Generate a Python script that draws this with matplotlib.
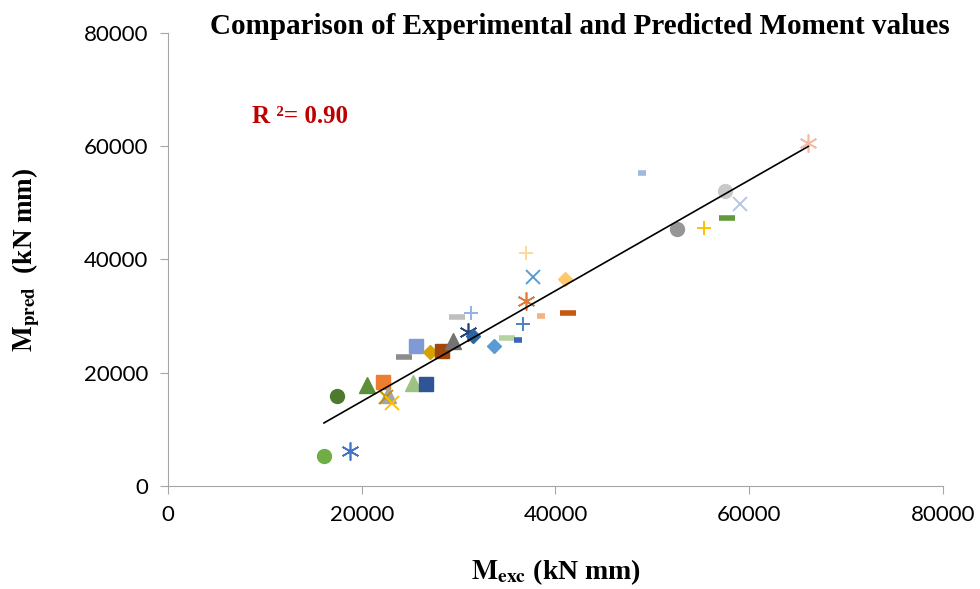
"""Scatter of experimental vs predicted moment values with a linear trend line."""

import matplotlib.pyplot as plt
import numpy as np

plt.rcParams["mathtext.fontset"] = "stix"

# Experimental moment (kN mm) and predicted moment (kN mm), one entry per specimen.
m_exc = [16100, 18800, 17400, 20500, 22200, 22700, 22500, 23100, 25300, 26600,
         24400, 25600, 27000, 28300, 29400, 29800, 31300, 31000, 31500, 33700,
         35000, 36100, 36600, 38500, 41300, 37000, 37700, 37000, 41000, 48900,
         52500, 55300, 57700, 57500, 59000, 66100]
m_pred = [5300, 6200, 15900, 17800, 18400, 16100, 15700, 14700, 18200, 18000,
          22800, 24700, 23700, 23800, 25600, 29800, 30500, 27200, 26500, 24700,
          26100, 25800, 28600, 30000, 30500, 32700, 36900, 41100, 36600, 55300,
          45400, 45600, 47300, 52100, 49800, 60600]

r_squared = 0.90

ASTERISK = (6, 2, 0)

# Marker style for each specimen (kept apart from the values above).
markers = ["o", ASTERISK, "o", "^", "s", "^", "x", "x", "^", "s",
           "_", "s", "D", "s", "^", "_", "+", ASTERISK, "D", "D",
           "_", "_", "+", "_", "_", ASTERISK, "x", "+", "D", "_",
           "o", "+", "_", "o", "x", ASTERISK]
colors = ["#70AD47", "#4472C4", "#4E7A2E", "#5B8F3A", "#ED7D31", "#A5A5A5", "#C09000", "#FFC000",
          "#9DC384", "#2F5597", "#8C8C8C", "#7F9AD4", "#D6A200", "#9E480E", "#737373", "#BFBFBF",
          "#8FB4E3", "#264478", "#2E64A0", "#5B9BD5", "#B4D3A0", "#3A66B5", "#4F81BD", "#F4B183",
          "#C55A11", "#E07B39", "#5B9BD5", "#FFD898", "#FFC96B", "#A5B6E0", "#969696", "#FFC000",
          "#62993E", "#C9C9C9", "#B4C7E7", "#F8B9A0"]
short_dash = {21, 23, 29}


def marker_style(marker, index):
    if marker == "o":
        return {"markersize": 10}
    if marker == "s":
        return {"markersize": 10.5}
    if marker == "^":
        return {"markersize": 11}
    if marker == "D":
        return {"markersize": 7.5}
    if marker == "_":
        width = 6 if index in short_dash else 11
        return {"markersize": width, "markeredgewidth": 4}
    if marker == ASTERISK:
        return {"markersize": 13, "markeredgewidth": 1.2}
    return {"markersize": 10, "markeredgewidth": 1.4}


fig = plt.figure(figsize=(9.8, 5.89), dpi=100)
ax = fig.add_axes([0.1714, 0.1749, 0.7908, 0.7691])

for i, (x, y) in enumerate(zip(m_exc, m_pred)):
    style = marker_style(markers[i], i)
    filled = markers[i] in ("o", "s", "^", "D")
    ax.plot(x, y, linestyle="none", marker=markers[i],
            markerfacecolor=colors[i] if filled else "none",
            markeredgecolor=colors[i], **style)

slope, intercept = np.polyfit(m_exc, m_pred, 1)
x_line = np.array([min(m_exc), max(m_exc)])
ax.plot(x_line, slope * x_line + intercept, color="black", linewidth=1.2)

ax.set_xlim(0, 80000)
ax.set_ylim(0, 80000)
ax.set_xticks(np.arange(0, 80001, 20000))
ax.set_yticks(np.arange(0, 80001, 20000))

for side in ("top", "right"):
    ax.spines[side].set_visible(False)
for side in ("left", "bottom"):
    ax.spines[side].set_color("#A6A6A6")
ax.tick_params(direction="out", length=6, color="#A6A6A6", labelsize=16,
               pad=8)
for label in ax.get_xticklabels() + ax.get_yticklabels():
    label.set_fontfamily("Lato")

ax.set_xlabel(r"$\mathbf{M_{exc}}$ (kN mm)", fontsize=20, fontweight="bold",
              fontfamily="Liberation Serif", labelpad=23)
ax.set_ylabel(r"$\mathbf{M_{pred}}$  (kN mm)", fontsize=19.5, fontweight="bold",
              fontfamily="Liberation Serif", labelpad=30)

fig.text(0.592, 0.955, "Comparison of Experimental and Predicted Moment values",
         ha="center", va="center", fontsize=21, fontweight="bold",
         fontfamily="Liberation Serif")
ax.text(8700, 65200, f"R ²= {r_squared:.2f}", color="#C00000", fontsize=18,
        fontweight="bold", fontfamily="Liberation Serif", va="center")

fig.savefig("out.png", dpi=100)
